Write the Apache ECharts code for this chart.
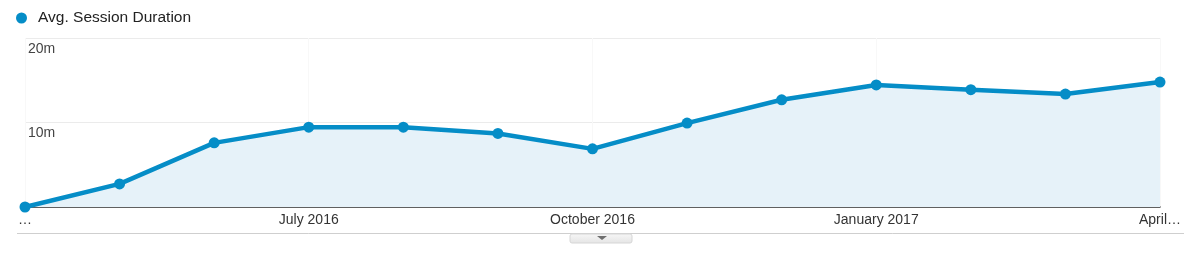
<!DOCTYPE html>
<html>
<head>
<meta charset="utf-8">
<script src="https://cdn.jsdelivr.net/npm/echarts@6/dist/echarts.min.js"></script>
<style>
html,body{margin:0;padding:0;background:#fff;}
#chart{width:1184px;height:255px;}
</style>
</head>
<body>
<div id="chart"></div>
<script>
var categories = ['April 2016','May 2016','June 2016','July 2016','August 2016','September 2016','October 2016','November 2016','December 2016','January 2017','February 2017','March 2017','April 2017'];
var tickLabels = ['\u2026','','','July 2016','','','October 2016','','','January 2017','','','April\u2026'];
var seriesName = 'Avg. Session Duration';
var durationMinutes = [0, 2.73, 7.59, 9.45, 9.45, 8.70, 6.88, 9.93, 12.69, 14.44, 13.88, 13.37, 14.79];
var yTickLabels = {0: '', 10: '10m', 20: '20m'};

var chart = echarts.init(document.getElementById('chart'), null, {renderer: 'canvas'});
chart.setOption({
  animation: false,
  backgroundColor: '#fff',
  legend: {
    show: true,
    left: 16,
    top: 10,
    padding: 0,
    icon: 'circle',
    itemWidth: 11,
    itemHeight: 11,
    itemGap: 10,
    textStyle: {fontFamily: 'Arial, Liberation Sans', fontSize: 15.5, color: '#222', padding: [0, 0, 0, 6]},
    data: [seriesName]
  },
  grid: {left: 25, right: 23, top: 38, bottom: 48, containLabel: false},
  xAxis: {
    type: 'category',
    boundaryGap: false,
    data: categories,
    axisLine: {show: true, lineStyle: {color: '#333', width: 1.5}},
    axisTick: {show: false},
    axisLabel: {
      interval: function (i) { return tickLabels[i] !== ''; },
      formatter: function (v, i) { return tickLabels[i]; },
      fontFamily: 'Arial, Liberation Sans',
      fontSize: 14,
      color: '#333',
      margin: 6
    },
    splitLine: {
      show: true,
      interval: function (i) { return tickLabels[i] !== ''; },
      lineStyle: {color: '#f8f8f8', width: 1}
    }
  },
  yAxis: {
    type: 'value',
    min: 0,
    max: 20,
    interval: 10,
    axisLine: {show: false},
    axisTick: {show: false},
    axisLabel: {
      inside: true,
      margin: 3,
      verticalAlign: 'top',
      padding: [4, 0, 0, 0],
      fontFamily: 'Arial, Liberation Sans',
      fontSize: 14,
      color: '#444',
      formatter: function (v) { return yTickLabels[v] !== undefined ? yTickLabels[v] : ''; }
    },
    splitLine: {show: true, lineStyle: {color: '#ebebeb', width: 1}}
  },
  series: [{
    name: seriesName,
    type: 'line',
    data: durationMinutes,
    color: '#058dc7',
    symbol: 'circle',
    symbolSize: 11,
    showAllSymbol: true,
    lineStyle: {color: '#058dc7', width: 4.5},
    itemStyle: {color: '#058dc7'},
    areaStyle: {color: '#e6f2f9', opacity: 1},
    z: 3
  }],
  graphic: [
    {type: 'line', shape: {x1: 17, y1: 233.5, x2: 1184, y2: 233.5}, style: {stroke: '#cfcfcf', lineWidth: 1}, silent: true},
    {type: 'rect', shape: {x: 570, y: 234, width: 62, height: 9, r: 2},
      style: {fill: new echarts.graphic.LinearGradient(0, 0, 0, 1, [{offset: 0, color: '#f7f7f7'}, {offset: 1, color: '#e4e4e4'}]), stroke: '#d6d6d6', lineWidth: 1}, silent: true},
    {type: 'polygon', shape: {points: [[597, 236], [607, 236], [602, 240]]}, style: {fill: '#6f6f6f'}, silent: true}
  ]
});
</script>
</body>
</html>
